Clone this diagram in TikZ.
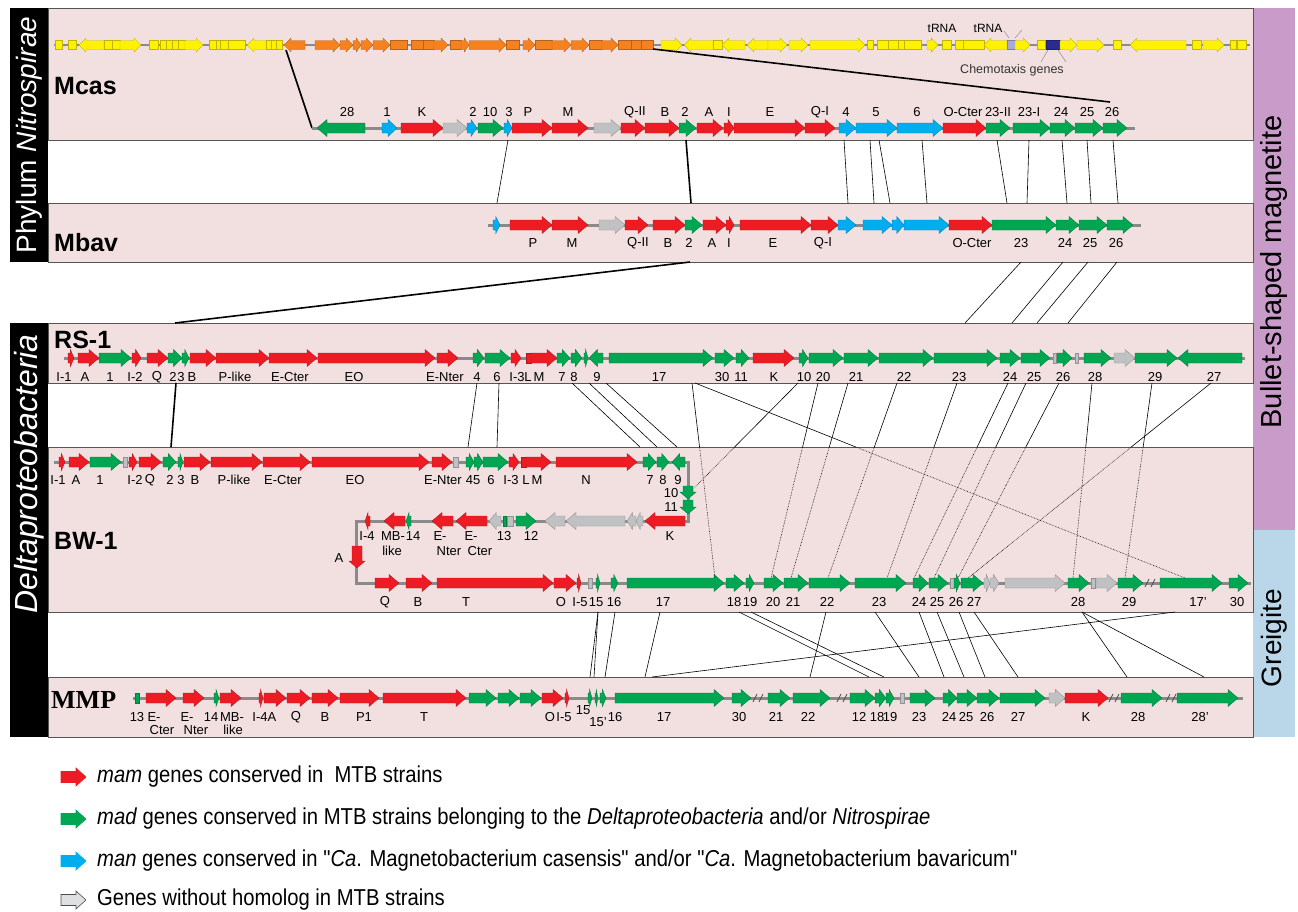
\documentclass[tikz,border=0pt]{standalone}
\usepackage{fontspec}
\setmainfont{Liberation Sans}
\newfontfamily\nar[FakeStretch=0.88]{Liberation Sans}
\newfontfamily\tnr{Liberation Serif}
\usetikzlibrary{calc}
\definecolor{cR}{HTML}{ED1C24}
\definecolor{cG}{HTML}{00A651}
\definecolor{cB}{HTML}{00AEEF}
\definecolor{cGy}{HTML}{C0C1C3}
\definecolor{cY}{HTML}{FFF200}
\definecolor{cO}{HTML}{F58220}
\definecolor{cT}{HTML}{A9A9DC}
\definecolor{cC}{HTML}{2B2A8F}
\definecolor{pnk}{HTML}{F2E0E1}
\definecolor{pbord}{HTML}{555555}
\definecolor{bbg}{HTML}{8A8A8A}
\definecolor{purp}{HTML}{C89BC9}
\definecolor{lblue}{HTML}{B9D7E8}
\tikzset{
 gene/.style={fill=#1,draw=#1!75!black,line width=0.35pt},
 bb/.style={line width=3pt,draw=bbg},
 lab/.style={font=\fontsize{13}{13}\selectfont,inner sep=0pt},
 conn/.style={line width=0.6pt},
 tconn/.style={line width=1.6pt},
 panel/.style={fill=pnk,draw=pbord,line width=1pt},
 title/.style={font=\bfseries\fontsize{25}{25}\selectfont,anchor=west,inner sep=0pt},
 legtext/.style={font=\nar\fontsize{23}{23}\selectfont,anchor=west,inner sep=0pt},
}
\def\bh{5}\def\hh{8.5}\def\hlmax{10}
\newcommand\gene[5]{%
 \pgfmathsetmacro\hl{min(\hlmax,0.6*(#3-#2))}%
 \if#5r\filldraw[gene=#1] (#2,#4-\bh) -- ({#3-\hl},#4-\bh) -- ({#3-\hl},#4-\hh) -- (#3,#4) -- ({#3-\hl},#4+\hh) -- ({#3-\hl},#4+\bh) -- (#2,#4+\bh) -- cycle;\fi
 \if#5l\filldraw[gene=#1] (#3,#4-\bh) -- ({#2+\hl},#4-\bh) -- ({#2+\hl},#4-\hh) -- (#2,#4) -- ({#2+\hl},#4+\hh) -- ({#2+\hl},#4+\bh) -- (#3,#4+\bh) -- cycle;\fi
 \if#5b\filldraw[gene=#1] (#2,#4-\bh) rectangle (#3,#4+\bh);\fi}
\newcommand\gdown[4]{\filldraw[gene=#1] (#2-5,#3) -- (#2+5,#3) -- (#2+5,#4-7) -- (#2+8,#4-7) -- (#2,#4) -- (#2-8,#4-7) -- (#2-5,#4-7) -- cycle;}
\newcommand\brk[2]{\draw[line width=0.8pt,draw=black!70] (#1-5,#2+4)--(#1-1,#2-4) (#1+1,#2+4)--(#1+5,#2-4);}
\newcommand\legarrow[3]{\filldraw[fill=#1,draw=#2,line width=0.6pt] (61,#3-5.5) -- (76,#3-5.5) -- (76,#3-9) -- (86,#3) -- (76,#3+9) -- (76,#3+5.5) -- (61,#3+5.5) -- cycle;}
\begin{document}
\begin{tikzpicture}[x=1pt,y=-1pt]
\useasboundingbox (0,0) rectangle (1298,911);
% side bars
\fill[black] (10,8) rectangle (48,262);
\fill[black] (10,323) rectangle (48,737);
\fill[purp] (1253,8) rectangle (1295,530);
\fill[lblue] (1253,530) rectangle (1295,737);
\node[rotate=90,text=white,font=\fontsize{28}{28}\selectfont,inner sep=0] at (29,135) {Phylum \textit{Nitrospirae}};
\node[rotate=90,text=white,font=\itshape\fontsize{32}{32}\selectfont,inner sep=0] at (29,474) {Deltaproteobacteria};
\node[rotate=90,font=\fontsize{29}{29}\selectfont,inner sep=0] at (1274,272) {Bullet-shaped magnetite};
\node[rotate=90,font=\fontsize{28}{28}\selectfont,inner sep=0] at (1274,638) {Greigite};
% panels
\draw[panel] (48,8) rectangle (1253,140);
\draw[panel] (48,203) rectangle (1253,262);
\draw[panel] (48,323) rectangle (1253,383);
\draw[panel] (48,447) rectangle (1253,612);
\draw[panel] (48,677) rectangle (1253,737);
\node[title] at (54,86) {Mcas};
\node[title] at (54,243) {Mbav};
\node[title] at (54,340) {RS-1};
\node[title] at (54,541) {BW-1};
\node[title,font=\tnr\bfseries\fontsize{26}{26}\selectfont] at (51,700) {MMP};
% ---------- Mcas genome row
\draw[bb,line width=2.5pt] (54,45) -- (1250,45);
\begingroup\def\bh{4.5}\def\hh{7}\def\hlmax{7}
\foreach \a/\b/\c/\d in {55/62/cY/b,68/76/cY/b,79/104/cY/l,104/112/cY/b,112/120/cY/b,120/141/cY/r,149/158/cY/b,160/166/cY/b,166/172/cY/b,172/178/cY/b,178/185/cY/b,185/203/cY/r,209/216/cY/b,216/220/cY/b,220/228/cY/b,228/245/cY/b,247/266/cY/l,266/271/cY/b,271/276/cY/b,276/282/cY/b,
284/305/cO/l,315/340/cO/r,340/353/cO/r,353/361/cO/r,361/373/cO/r,373/390/cO/r,390/407/cO/b,411/423/cO/b,423/434/cO/b,434/448/cO/r,450/461/cO/b,461/469/cO/r,469/506/cO/r,506/519/cO/b,523/535/cO/r,535/552/cO/b,552/571/cO/r,571/589/cO/r,589/602/cO/b,602/618/cO/r,618/631/cO/b,631/641/cO/b,641/653/cO/b,
661/682/cY/r,684/713/cY/l,713/722/cY/b,722/745/cY/l,747/768/cY/l,768/787/cY/r,789/808/cY/r,810/865/cY/r,867/873/cY/b,877/888/cY/b,888/898/cY/b,898/904/cY/b,904/921/cY/b,927/938/cY/r,942/951/cY/b,955/963/cY/b,963/984/cY/b,984/1007/cY/l,1007/1015/cT/b,1015/1030/cY/r,1037/1045/cY/b,1046/1060/cC/b,1060/1077/cY/r,1077/1104/cY/r,1113/1121/cY/b,1130/1186/cY/l,1192/1201/cY/b,1203/1224/cY/r,1230/1236/cY/b,1237/1246/cY/b}
 {\gene{\c}{\a}{\b}{45}{\d}}
\endgroup
\node[font=\fontsize{12}{12}\selectfont,inner sep=0] at (942,28) {tRNA};
\node[font=\fontsize{12}{12}\selectfont,inner sep=0] at (988,28) {tRNA};
\draw[line width=0.4pt,draw=black!50] (1004,31) -- (1009,38) (1022,30) -- (1015,38);
\draw[line width=0.4pt,draw=black!50] (1048,50) -- (1041,62) (1058,50) -- (1066,62);
\node[font=\fontsize{12.5}{12.5}\selectfont,inner sep=0,text=black!80] at (1012,70) {Chemotaxis genes};
\draw[tconn] (286,50) -- (312,128);
\draw[tconn] (653,49) -- (1110,102);
% ---------- Mcas detail row
\draw[bb] (312,128) -- (1135,128);
\foreach \a/\b/\c/\d in {317/365/cG/l,382/397/cB/r,401/443/cR/r,443/467/cGy/r,467/477/cB/r,478/503/cG/r,504/512/cB/r,512/552/cR/r,552/588/cR/r,594/621/cGy/r,621/645/cR/r,645/679/cR/r,679/696/cG/r,697/723/cR/r,724/734/cR/r,734/805/cR/r,805/835/cR/r,839/856/cB/r,856/897/cB/r,897/943/cB/r,943/986/cR/r,986/1010/cG/r,1013/1050/cG/r,1050/1075/cG/r,1075/1103/cG/r,1103/1127/cG/r}
 {\gene{\c}{\a}{\b}{128}{\d}}
\foreach \x/\t in {347/28,387/1,422/K,473/2,490/10,509/3,528/P,568/M,635/Q-II,665/B,685/2,709/A,729/I,770/E,820/Q-I,846/4,876/5,917/6,963/O-Cter,998/23-II,1029/23-I,1061/24,1087/25,1112/26}
 {\node[lab] at (\x,112) {\t};}
% ---------- Mbav row
\draw[bb] (488,225) -- (1141,225);
\foreach \a/\b/\c/\d in {493/500/cB/r,510/552/cR/r,552/588/cR/r,599/625/cGy/r,625/648/cR/r,653/685/cR/r,685/702/cG/r,703/726/cR/r,726/734/cR/r,740/811/cR/r,811/838/cR/r,838/856/cB/r,863/892/cB/r,892/904/cB/r,904/949/cB/r,949/992/cR/r,992/1056/cG/r,1056/1079/cG/r,1079/1107/cG/r,1107/1133/cG/r}
 {\gene{\c}{\a}{\b}{225}{\d}}
\foreach \x/\t in {533/P,572/M,638/Q-II,668/B,689/2,712/A,729/I,773/E,823/Q-I,972/O-Cter,1021/23,1065/24,1090/25,1116/26}
 {\node[lab] at (\x,243) {\t};}
% ---------- RS-1 row
\draw[bb] (64,358) -- (1245,358);
\foreach \a/\b/\c/\d in {68/74/cR/r,78/99/cR/r,99/131/cG/r,132/141/cR/r,147/168/cR/r,168/182/cG/r,182/189/cG/r,190/216/cR/r,216/269/cR/r,269/317/cR/r,318/435/cR/r,437/458/cR/r,473/484/cG/r,485/510/cG/r,511/521/cR/r,526/531/cR/b,531/557/cR/r,557/570/cG/r,571/582/cG/r,584/588/cG/r,589/603/cG/l,609/713/cG/r,715/734/cG/r,736/749/cG/r,753/794/cR/r,799/808/cG/r,809/843/cG/r,844/878/cG/r,879/933/cG/r,934/997/cG/r,1000/1020/cG/r,1021/1050/cG/r,1053/1056/cGy/b,1057/1072/cG/r,1075/1078/cGy/b,1084/1111/cG/r,1114/1135/cGy/r,1135/1177/cG/r,1178/1242/cG/l}
 {\gene{\c}{\a}{\b}{358}{\d}}
\foreach \x/\t in {64/I-1,85/A,110/1,135/I-2,157/Q,173/2,181/3,192/B,235/P-like,290/E-Cter,354/EO,445/E-Nter,477/4,497/6,517/I-3,528/L,539/M,562/7,574/8,597/9,659/17,722/30,741/11,774/K,804/10,823/20,856/21,904/22,959/23,1010/24,1034/25,1063/26,1095/28,1155/29,1214/27}
 {\node[lab] at (\x,377) {\t};}
% ---------- BW-1 rows
\draw[bb] (54,462) -- (688,462) -- (688,521) -- (356,521) -- (356,583) -- (1251,583);
\foreach \a/\b/\c/\d in {59/65/cR/r,69/89/cR/r,90/121/cG/r,123/127/cGy/b,129/137/cR/r,139/161/cR/r,163/176/cG/r,178/183/cG/r,184/210/cR/r,211/262/cR/r,263/310/cR/r,312/429/cR/r,432/452/cR/r,453/458/cGy/b,466/474/cG/r,474/483/cG/r,483/508/cG/r,509/519/cR/r,521/526/cR/b,526/551/cR/r,556/637/cR/r,643/656/cG/r,657/669/cG/r,672/685/cG/l}
 {\gene{\c}{\a}{\b}{462}{\d}}
\foreach \x/\t in {58/I-1,76/A,100/1,135/I-2,150/Q,170/2,181/3,195/B,234/P-like,283/E-Cter,355/EO,443/E-Nter,473/45,491/6,511/I-3,526/L,537/M,586/N,650/7,663/8,678/9}
 {\node[lab] at (\x,480) {\t};}
\gdown{cG}{688}{486}{499}
\gdown{cG}{688}{500}{514}
\node[lab] at (671,493) {10};
\node[lab] at (671,507) {11};
\foreach \a/\b/\c/\d in {645/685/cR/l,636/643/cGy/l,627/636/cGy/l,566/625/cGy/l,545/565/cGy/l,516/536/cG/r,507/513/cGy/b,503/506/cG/b,489/501/cGy/l,456/487/cR/l,432/453/cR/l,406/411/cG/l,384/405/cR/l,365/370/cR/l}
 {\gene{\c}{\a}{\b}{521}{\d}}
\foreach \x/\y/\t in {670/536/K,531/536/12,504/536/13,471/536/E-,480/551/Cter,440/536/E-,449/551/Nter,393/536/MB-,413/536/14,392/551/like,367/536/I-4,339/558/A}
 {\node[lab] at (\x,\y) {\t};}
\gdown{cR}{357}{546}{568}
\foreach \a/\b/\c/\d in {375/399/cR/r,406/432/cR/r,437/553/cR/r,554/576/cR/r,577/581/cR/r,588/592/cGy/b,596/600/cG/r,611/618/cG/r,627/724/cG/r,726/744/cG/r,746/754/cG/r,764/783/cG/r,784/808/cG/r,809/850/cG/r,855/906/cG/r,913/928/cG/r,929/948/cG/r,950/954/cGy/b,954/960/cG/r,961/983/cG/r,984/990/cGy/r,990/999/cGy/r,1005/1065/cGy/r,1068/1089/cG/r,1091/1095/cGy/b,1096/1117/cGy/r,1118/1143/cG/r,1160/1222/cG/r,1229/1248/cG/r}
 {\gene{\c}{\a}{\b}{583}{\d}}
\brk{1150}{583}
\foreach \x/\t in {385/Q,418/B,466/T,561/O,580/I-5,596/15,614/16,663/17,734/18,750/19,773/20,793/21,827/22,879/23,919/24,937/25,956/26,974/27,1078/28,1129/29,1198/17',1237/30}
 {\node[lab] at (\x,602) {\t};}
% ---------- MMP row
\draw[bb] (133,698) -- (1243,698);
\foreach \a/\b/\c/\d in {135/139/cG/b,146/176/cR/r,183/204/cR/r,214/219/cG/r,220/241/cR/r,259/263/cR/r,264/286/cR/r,287/310/cR/r,312/338/cR/r,340/379/cR/r,383/466/cR/r,469/496/cG/r,498/519/cG/r,520/541/cG/r,542/563/cR/r,565/569/cR/r,588/592/cG/r,595/598/cG/r,600/606/cG/r,615/724/cG/r,732/751/cG/r,768/790/cG/r,793/830/cG/r,850/875/cG/r,875/886/cG/r,886/894/cG/r,900/904/cGy/b,910/935/cG/r,943/957/cG/r,957/977/cG/r,977/999/cG/r,1000/1045/cG/r,1049/1065/cGy/r,1065/1108/cR/r,1121/1162/cG/r,1177/1238/cG/r}
 {\gene{\c}{\a}{\b}{698}{\d}}
\brk{758}{698}\brk{842}{698}\brk{1114}{698}\brk{1171}{698}
\foreach \x/\t in {137/13,154/E-,187/E-,211/14,232/MB-,260/I-4,272/A,296/Q,325/B,364/P1,424/T,550/O,564/I-5,615/16,664/17,739/30,776/21,808/22,859/12,877/18,890/19,919/23,949/24,966/25,987/26,1018/27,1086/K,1138/28,1200/28'}
 {\node[lab] at (\x,717) {\t};}
\foreach \x/\t in {162/Cter,196/Nter,233/like}
 {\node[lab] at (\x,730) {\t};}
\node[lab] at (583,710) {15};
\node[lab] at (598,722) {15'};
% ---------- connectors
\foreach \a/\b in {508/497,844/848,870/874,879/890,922/927,997/1007,1029/1027,1062/1067,1087/1091,1113/1118}
 {\draw[conn] (\a,140) -- (\b,203);}
\draw[tconn] (686,140) -- (691,203);
\draw[tconn] (690,262) -- (175,323);
\foreach \a/\b in {1021/965,1063/1012,1088/1037,1117/1068}
 {\draw[conn] (\a,262) -- (\b,323);}
\draw[tconn] (176,383) -- (171,447);
\foreach \a/\b in {477/468,499/497,572/640,589/657,606/677}
 {\draw[conn] (\a,383) -- (\b,447);}
\foreach \a/\b in {692/715,695/1185,818/771,848/791,897/828,957/887,1008/914,1026/934,1059/958,1092/1073,1152/1125,1211/968}
 {\draw[conn] (\a,383) -- ($(\a,383)!0.3282!(\b,578)$) coordinate (m);
  \draw[conn,densely dotted] (m) -- (\b,578);}
\draw[conn] (798,383) -- ($(798,383)!0.6095!(694,488)$) coordinate (m10);
\draw[conn,densely dotted] (m10) -- (694,488);
\foreach \a/\b in {598/590,598/594,615/605,660/645,739/869,751/884,826/810,875/919,919/944,937/964,959/985,974/1018,1082/1127,1082/1204,1175/652}
 {\draw[conn] (\a,612) -- (\b,677);}
% ---------- legend
\legarrow{cR}{cR}{777}
\legarrow{cG}{cG}{819}
\legarrow{cB}{cB}{861}
\legarrow{cGy!50}{black!70}{900}
\node[legtext] at (97,777) {\textit{mam} genes conserved in\ \ MTB strains};
\node[legtext] at (97,819) {\textit{mad} genes conserved in MTB strains belonging to the \textit{Deltaproteobacteria} and/or \textit{Nitrospirae}};
\node[legtext] at (97,861) {\textit{man} genes conserved in "\textit{Ca}. Magnetobacterium casensis" and/or "\textit{Ca}. Magnetobacterium bavaricum"};
\node[legtext] at (97,900) {Genes without homolog in MTB strains};
\end{tikzpicture}
\end{document}
